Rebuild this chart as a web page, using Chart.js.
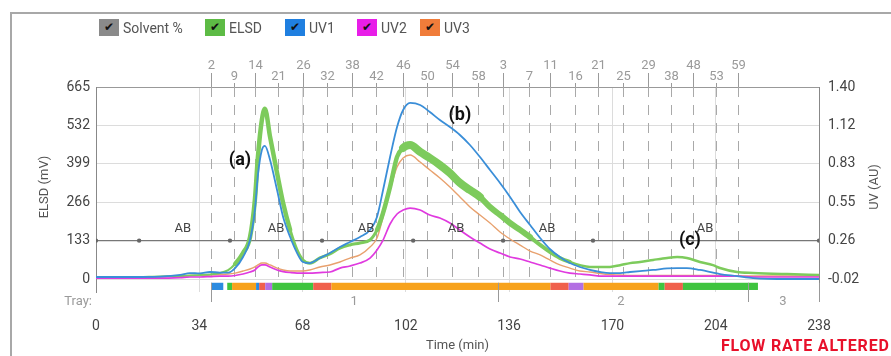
<!DOCTYPE html>
<html>
<head>
<meta charset="utf-8">
<script src="https://cdn.jsdelivr.net/npm/chart.js@4.4.1/dist/chart.umd.min.js"></script>
<style>
  body { margin: 0; background: #fff; font-family: Roboto, "Open Sans", sans-serif; }
  #wrap { position: relative; width: 891px; height: 356px; overflow: hidden; }
  #panel { position: absolute; left: 10px; top: 12px; width: 900px; height: 400px;
           border-left: 2px solid #a8a8a8; border-top: 2px solid #a8a8a8; }
  #chart { position: absolute; left: 0; top: 0; }
  .lg { position: absolute; top: 19px; height: 17px; display: flex; align-items: center; font-size: 14px; color: #555; }
  .lg .box { width: 20px; height: 17px; margin-right: 4px; position: relative; }
  .lg .box span { position: absolute; left: 5px; top: 0px; font-size: 12px; color: #111; line-height: 17px; }
  #flow { position: absolute; left: 721px; top: 336px; font-size: 16px; font-weight: bold; letter-spacing: 0.8px; color: #e8102a; white-space: nowrap; }
</style>
</head>
<body>
<div id="wrap">
  <div id="panel"></div>
  <canvas id="chart" width="891" height="356"></canvas>
  <div id="legend"></div>
  <div id="flow">FLOW RATE ALTERED</div>
</div>
<script>
// Time axis (min) and detector traces
const timeMin = [0, 11.2, 21.1, 27.7, 30.9, 34.2, 37.5, 40.8, 43.5, 45.8, 48.4, 50.7, 52.3, 53.3, 54.6, 55.6, 57.3, 59.6, 61.6, 63.9,
  66.2, 68.1, 70.4, 73.7, 77.0, 80.3, 83.6, 86.9, 90.2, 92.5, 94.5, 96.8, 99.1, 101.1, 103.4, 106.7, 109.9, 113.2, 116.5, 119.8,
  123.1, 126.4, 129.7, 133.0, 136.3, 139.6, 142.9, 146.2, 149.4, 152.7, 156.0, 159.3, 162.6, 165.9, 169.2, 172.5, 175.8, 179.1, 183.4, 188.0,
  191.3, 194.5, 198.8, 203.1, 205.4, 211.0, 216.3, 227.5, 238];

// ELSD (mV)
const elsd = [7, 7, 9, 10, 12, 14, 16, 21, 31, 52, 90, 145, 274, 423, 551, 590, 492, 367, 263, 170,
  100, 66, 55, 73, 87, 107, 118, 125, 135, 170, 229, 319, 423, 454, 464, 440, 419, 395, 367, 333,
  308, 284, 249, 222, 194, 170, 145, 118, 94, 73, 59, 48, 42, 42, 42, 48, 55, 59, 66, 73,
  76, 73, 59, 48, 38, 24, 21, 17, 14];

// UV traces (AU)
const uv1 = [-0.005, -0.005, -0.002, 0.010, 0.024, 0.021, 0.032, 0.028, 0.028, 0.061, 0.143, 0.268, 0.490, 0.749, 0.934, 0.964, 0.860, 0.638, 0.439, 0.291,
  0.172, 0.106, 0.098, 0.135, 0.172, 0.217, 0.254, 0.291, 0.342, 0.439, 0.638, 0.882, 1.104, 1.230, 1.282, 1.267, 1.215, 1.156, 1.104, 1.045,
  0.971, 0.882, 0.786, 0.690, 0.587, 0.476, 0.379, 0.283, 0.202, 0.143, 0.098, 0.069, 0.047, 0.032, 0.024, 0.024, 0.032, 0.039, 0.047, 0.058,
  0.061, 0.061, 0.047, 0.028, 0.017, 0.002, -0.013, -0.020, -0.020];
const uv2 = [-0.013, -0.013, -0.013, -0.009, -0.005, -0.005, -0.002, 0.002, 0.002, 0.006, 0.017, 0.032, 0.047, 0.069, 0.084, 0.084, 0.069, 0.047, 0.035, 0.028,
  0.024, 0.024, 0.024, 0.028, 0.032, 0.061, 0.076, 0.098, 0.135, 0.195, 0.268, 0.387, 0.461, 0.490, 0.505, 0.490, 0.453, 0.431, 0.394, 0.342,
  0.291, 0.246, 0.202, 0.172, 0.143, 0.128, 0.106, 0.084, 0.061, 0.039, 0.024, 0.017, 0.010, 0.002, 0.002, 0.002, 0.002, 0.002, 0.002, 0.002,
  0.002, 0.002, 0.002, 0.002, 0.002, 0.002, -0.005, -0.005, -0.005];
const uv3 = [-0.002, -0.002, -0.002, 0.002, 0.006, 0.006, 0.010, 0.013, 0.017, 0.024, 0.039, 0.054, 0.069, 0.084, 0.098, 0.098, 0.084, 0.061, 0.047, 0.039,
  0.039, 0.039, 0.047, 0.069, 0.084, 0.106, 0.135, 0.158, 0.217, 0.283, 0.439, 0.638, 0.808, 0.875, 0.897, 0.845, 0.786, 0.727, 0.660, 0.587,
  0.513, 0.453, 0.394, 0.328, 0.276, 0.231, 0.187, 0.158, 0.121, 0.084, 0.061, 0.039, 0.032, 0.021, 0.013, 0.010, 0.006, 0.006, 0.006, 0.006,
  0.006, 0.006, 0.006, 0.006, 0.006, 0.002, 0.002, 0.002, 0.002];

// Solvent % trace (shown on the ELSD scale) and its gradient labels
const solventTimes = [0, 14.2, 44.1, 74.4, 104.4, 134.0, 163.6, 238];
const solventLevel = [133, 133, 133, 133, 133, 133, 133, 133];
const abTimes = [28.6, 59.3, 88.9, 118.5, 148.5, 200.5];

// Axis ticks
const elsdTicks = [0, 133, 266, 399, 532, 665];
const uvTicks = [-0.02, 0.264, 0.548, 0.832, 1.116, 1.40];

// Fraction markers (tube numbers) along the top
const fractionLabels = ['2', '9', '14', '21', '26', '32', '38', '42', '46', '50', '54', '58', '3', '7', '11', '16', '21', '25', '29', '38', '48', '53', '59'];
const fractionTimes = [37.9, 45.4, 52.3, 59.9, 68.1, 76.0, 84.3, 92.2, 101.1, 109.0, 117.2, 125.7, 134.0, 142.5, 149.4, 157.7, 165.3, 173.5, 181.7, 189.3, 196.6, 204.2, 211.4];

// Tray collection bar
const traySegStart = [37.9, 43.2, 44.8, 52.7, 53.7, 55.7, 58.0, 71.5, 77.5, 149.6, 155.6, 160.5, 185.2, 187.2, 193.2];
const traySegEnd   = [41.9, 44.8, 52.7, 53.7, 55.7, 58.0, 71.5, 77.5, 149.6, 155.6, 160.5, 185.2, 187.2, 193.2, 217.9];
const traySegKind  = ['b', 'g', 'o', 'b', 'r', 'p', 'g', 'r', 'o', 'r', 'p', 'o', 'g', 'r', 'g'];
const trayTickTimes = [37.9, 132.3, 214.6, 238];
const trayNames = ['1', '2', '3'];
const trayNameTimes = [85.0, 172.8, 226.1];

// Peak annotations
const annotText = ['(a)', '(b)', '(c)'];
const annotTime = [47.4, 119.8, 195.5];
const annotElsd = [412, 565, 132];

const trayColors = { b: '#2b8be0', g: '#3fc43f', o: '#f7a21b', r: '#f0604c', p: '#b36fe3' };
const FONT = 'Roboto, "Open Sans", sans-serif';

// legend (check boxes like the instrument software)
const legendItems = [
  { name: 'Solvent %', color: '#8a8a8a', left: 99 },
  { name: 'ELSD', color: '#5dbb45', left: 205 },
  { name: 'UV1', color: '#1f7fe0', left: 285 },
  { name: 'UV2', color: '#e81ee8', left: 357 },
  { name: 'UV3', color: '#f07c3a', left: 420 }
];
const legendEl = document.getElementById('legend');
legendItems.forEach(item => {
  const d = document.createElement('div');
  d.className = 'lg';
  d.style.left = item.left + 'px';
  d.innerHTML = '<div class="box" style="background:' + item.color + '"><span>\u2714</span></div>' + item.name;
  legendEl.appendChild(d);
});

function pts(ys) {
  return timeMin.map((t, i) => ({ x: t, y: ys[i] }));
}

// the ELSD signal is noisy, drawn as a wider band where the noise is wide
function elsdBandWidth(t) {
  if (t < 45) return 2;
  if (t < 62) return 4.5;
  if (t < 92) return 3;
  if (t < 100) return 4.5;
  if (t < 125) return 8;
  if (t < 140) return 6;
  if (t < 155) return 4;
  return 2.5;
}

const extras = {
  id: 'extras',
  beforeDatasetsDraw(chart) {
    const { ctx, chartArea: a, scales: { x, yL } } = chart;
    ctx.save();
    ctx.strokeStyle = '#a9a9a9';
    ctx.lineWidth = 1;
    ctx.setLineDash([10, 8]);
    fractionTimes.forEach(t => {
      const px = Math.round(x.getPixelForValue(t)) + 0.5;
      ctx.beginPath();
      ctx.moveTo(px, a.top);
      ctx.lineTo(px, yL.getPixelForValue(0));
      ctx.stroke();
    });
    ctx.restore();
  },
  afterDatasetsDraw(chart) {
    const { ctx, chartArea: a, scales: { x, yL } } = chart;
    ctx.save();

    // AB labels on the solvent line
    ctx.font = '13px ' + FONT;
    ctx.fillStyle = '#444';
    ctx.textAlign = 'center';
    ctx.textBaseline = 'middle';
    abTimes.forEach(t => ctx.fillText('AB', x.getPixelForValue(t), yL.getPixelForValue(133) - 12));

    // tray bar
    const barTop = yL.getPixelForValue(-13);
    const barBot = yL.getPixelForValue(-38);
    traySegStart.forEach((t0, i) => {
      const x0 = x.getPixelForValue(t0);
      const x1 = x.getPixelForValue(traySegEnd[i]);
      ctx.fillStyle = trayColors[traySegKind[i]];
      ctx.fillRect(x0, barTop, x1 - x0, barBot - barTop);
    });
    ctx.strokeStyle = '#999';
    ctx.lineWidth = 1;
    trayTickTimes.forEach(t => {
      const px = Math.round(x.getPixelForValue(t)) + 0.5;
      ctx.beginPath();
      ctx.moveTo(px, barTop);
      ctx.lineTo(px, a.bottom + 10);
      ctx.stroke();
    });
    ctx.fillStyle = '#9a9a9a';
    ctx.font = '13px ' + FONT;
    trayNames.forEach((n, i) => ctx.fillText(n, x.getPixelForValue(trayNameTimes[i]), a.bottom + 10));
    ctx.textAlign = 'right';
    ctx.fillText('Tray:', a.left - 4, a.bottom + 10);

    // peak annotations
    ctx.fillStyle = '#111';
    ctx.font = 'bold 18px ' + FONT;
    ctx.textAlign = 'center';
    annotText.forEach((s, i) => ctx.fillText(s, x.getPixelForValue(annotTime[i]), yL.getPixelForValue(annotElsd[i])));
    ctx.restore();
  },
  afterDraw(chart) {
    const { ctx, chartArea: a, scales: { x } } = chart;
    ctx.save();
    // fraction numbers above the plot, staggered on two rows
    ctx.font = '13px ' + FONT;
    ctx.fillStyle = '#9a9a9a';
    ctx.strokeStyle = '#9a9a9a';
    ctx.lineWidth = 1;
    ctx.textAlign = 'center';
    ctx.textBaseline = 'middle';
    fractionTimes.forEach((t, i) => {
      const px = Math.round(x.getPixelForValue(t)) + 0.5;
      const high = i % 2 === 0;
      ctx.fillText(fractionLabels[i], px, a.top - (high ? 21 : 10));
      ctx.beginPath();
      ctx.moveTo(px, a.top - (high ? 14 : 4));
      ctx.lineTo(px, a.top);
      ctx.stroke();
    });

    // axis titles
    ctx.fillStyle = '#555';
    ctx.font = '13px ' + FONT;
    ctx.fillText('Time (min)', (a.left + a.right) / 2, 346);
    const midY = 187;
    [['ELSD (mV)', 45], ['UV (AU)', 875]].forEach(([s, tx]) => {
      ctx.save();
      ctx.translate(tx, midY);
      ctx.rotate(-Math.PI / 2);
      ctx.fillText(s, 0, 0);
      ctx.restore();
    });
    ctx.restore();
  }
};

Chart.defaults.font.family = FONT;

new Chart(document.getElementById('chart'), {
  type: 'line',
  data: {
    datasets: [
      { label: 'UV1', data: pts(uv1), yAxisID: 'yR', borderColor: '#3a8ed8', borderWidth: 1.8, order: 1 },
      { label: 'UV2', data: pts(uv2), yAxisID: 'yR', borderColor: '#e03adf', borderWidth: 1.7, order: 2 },
      {
        label: 'ELSD', data: pts(elsd), yAxisID: 'yL', borderColor: '#7dcb5c', borderWidth: 2, order: 3,
        borderCapStyle: 'round', borderJoinStyle: 'round',
        segment: { borderWidth: c => elsdBandWidth(c.p0.parsed.x) }
      },
      { label: 'UV3', data: pts(uv3), yAxisID: 'yR', borderColor: '#e8a16e', borderWidth: 1.4, order: 4 },
      {
        label: 'Solvent %', data: solventTimes.map((t, i) => ({ x: t, y: solventLevel[i] })), yAxisID: 'yL',
        borderColor: '#777', borderWidth: 1.3, pointRadius: 2.2, pointBackgroundColor: '#666', pointBorderWidth: 0,
        cubicInterpolationMode: 'default', tension: 0, order: 5
      }
    ]
  },
  options: {
    responsive: false,
    animation: false,
    events: [],
    elements: { point: { radius: 0 }, line: { cubicInterpolationMode: 'monotone' } },
    layout: { padding: { top: 87, left: 0, right: 0, bottom: 0 } },
    plugins: { legend: { display: false }, tooltip: { enabled: false } },
    scales: {
      x: {
        type: 'linear', min: 0, max: 238,
        ticks: { stepSize: 34, padding: 26, color: '#444', font: { size: 14 } },
        grid: { color: '#dcdcdc', drawTicks: false },
        border: { display: false },
        afterFit(s) { s.height = 64; }
      },
      yL: {
        position: 'left', min: -45, max: 665,
        afterBuildTicks(s) { s.ticks = elsdTicks.map(v => ({ value: v })); },
        ticks: { padding: 6, color: '#444', font: { size: 14 } },
        grid: { color: c => (c.tick && c.tick.value === 665 ? '#999' : '#dcdcdc'), drawTicks: false },
        border: { color: '#888' },
        afterFit(s) { s.width = 96; }
      },
      yR: {
        position: 'right', min: -0.116, max: 1.40,
        afterBuildTicks(s) { s.ticks = uvTicks.map(v => ({ value: v })); },
        ticks: { padding: 9, color: '#444', font: { size: 14 }, callback: v => v.toFixed(2) },
        grid: { display: false, drawTicks: false },
        border: { color: '#888' },
        afterFit(s) { s.width = 72; }
      }
    }
  },
  plugins: [extras]
});
</script>
</body>
</html>
